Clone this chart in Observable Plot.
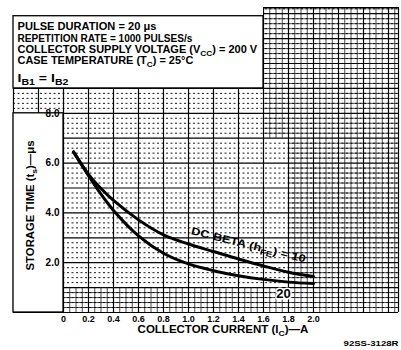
<!DOCTYPE html>
<html><head><meta charset="utf-8">
<script src="https://cdn.jsdelivr.net/npm/d3@7"></script>
<script src="https://cdn.jsdelivr.net/npm/@observablehq/plot@0.6"></script>
<style>
html,body{margin:0;padding:0;background:#fff;}
svg{display:block;}
</style></head><body><div id="chart"></div>
<script>
// ---- data ----
const ic = [0.08, 0.2, 0.3, 0.4, 0.6, 0.8, 1.0, 1.2, 1.4, 1.6, 1.8, 2.0];
const tsBeta10 = [6.45, 5.55, 4.98, 4.5, 3.72, 3.12, 2.75, 2.45, 2.15, 1.87, 1.62, 1.45];
const tsBeta20 = [6.45, 5.5, 4.75, 4.1, 3.08, 2.38, 1.95, 1.68, 1.48, 1.33, 1.22, 1.16];
const xTickValues = [0, 0.2, 0.4, 0.6, 0.8, 1.0, 1.2, 1.4, 1.6, 1.8, 2.0];
const xTickLabels = ["0", "0.2", "0.4", "0.6", "0.8", "1.0", "1.2", "1.4", "1.6", "1.8", "2.0"];
const yTickValues = [2, 4, 6, 8];
const yTickLabels = ["2.0", "4.0", "6.0", "8.0"];
const headerLines = [
  "PULSE DURATION = 20 μs",
  "REPETITION RATE = 1000 PULSES/s",
  "COLLECTOR SUPPLY VOLTAGE (V_{CC}) = 200 V",
  "CASE TEMPERATURE (T_{C}) = 25°C",
  "I_{B1} = I_{B2}"
];
const xTitle = "COLLECTOR CURRENT (I_{C})—A";
const yTitle = "STORAGE TIME (t_{s})—μs";
const betaLabels = ["DC BETA (h_{FE}) = 10", "20"];
const caption = "92SS-3128R";

// ---- layout ----
const X0 = -0.4, X1 = 2.68, Y1 = 12.25;
const near = (v, s) => Math.abs(v / s - Math.round(v / s)) < 1e-6;
const majorX = d3.range(-0.4, 2.61, 0.2).map(v => +v.toFixed(2));
const majorY = d3.range(0, 12.5, 1);
const minorY = d3.range(0.2, 12.25, 0.2).map(v => +v.toFixed(2)).filter(v => !near(v, 1));
const minorX = d3.range(0, 2.68, 0.05).map(v => +v.toFixed(2)).filter(v => !near(v, 0.2));

const denseH = minorY.map(y => ({y, x1: y < 1 ? 0 : (y > 7 ? 1.6 : 1.8), x2: X1}));
const denseV = [];
for (const x of minorX) {
  if (x >= 1.8) denseV.push({x, y1: 0, y2: Y1});
  else if (x >= 1.6) { denseV.push({x, y1: 7, y2: Y1}); denseV.push({x, y1: 0, y2: 1}); }
  else denseV.push({x, y1: 0, y2: 1});
}

const curves = [
  ...ic.map((x, i) => ({ic: x, ts: tsBeta10[i], beta: 10})),
  ...ic.map((x, i) => ({ic: x, ts: tsBeta20[i], beta: 20}))
];

const bold = {fill: "#000", fontWeight: "bold"};

const plot = Plot.plot({
  width: 401, height: 350,
  marginLeft: 13, marginRight: 3, marginTop: 7, marginBottom: 38,
  x: {domain: [X0, X1], axis: null},
  y: {domain: [0, Y1], axis: null},
  style: {fontFamily: "'Liberation Sans', Arial, sans-serif", background: "#fff"},
  marks: [
    Plot.ruleY(minorY, {x1: X0, x2: X1, stroke: "#000", strokeWidth: 0.9, strokeDasharray: "2,2.5"}),
    Plot.ruleY(denseH, {y: "y", x1: "x1", x2: "x2", stroke: "#000", strokeWidth: 0.7}),
    Plot.ruleX(denseV, {x: "x", y1: "y1", y2: "y2", stroke: "#000", strokeWidth: 0.7}),
    Plot.ruleX(majorX, {y1: 0, y2: Y1, stroke: "#000", strokeWidth: 1.2}),
    Plot.ruleX([X1], {y1: 0, y2: Y1, stroke: "#000", strokeWidth: 1.2}),
    Plot.ruleY(majorY, {x1: X0, x2: X1, stroke: "#000", strokeWidth: 1.2}),
    Plot.ruleY([Y1], {x1: 1.6, x2: X1, stroke: "#000", strokeWidth: 1.2}),
    // white panels
    Plot.rect([{}], {x1: X0 - 0.1, x2: 1.6, y1: 9, y2: Y1 + 0.3, fill: "#fff"}),
    Plot.rect([{}], {x1: X0, x2: 1.6, y1: 9, y2: 11.9, fill: "#fff", stroke: "#000", strokeWidth: 1.3}),
    Plot.rect([{}], {x1: X0, x2: 0, y1: 0, y2: 8, fill: "#fff", stroke: "#000", strokeWidth: 1.3}),
    // curves
    Plot.line(curves, {x: "ic", y: "ts", z: "beta", curve: "catmull-rom", stroke: "#000", strokeWidth: 3}),
    // tick labels
    Plot.text(yTickValues, {x: 0, y: d => d, text: (d, i) => yTickLabels[i], textAnchor: "end", dx: -4, fontSize: 10, ...bold}),
    Plot.text(xTickValues, {x: d => d, y: 0, text: (d, i) => xTickLabels[i], dy: 6.5, fontSize: 9, ...bold}),
    // titles
    Plot.text([xTitle], {frameAnchor: "bottom", textAnchor: "middle", dx: 17, dy: 20, fontSize: 10, ...bold}),
    Plot.text([yTitle], {frameAnchor: "left", textAnchor: "middle", rotate: -90, dx: 17, dy: 45.5, fontSize: 10, ...bold}),
    // header
    ...headerLines.map((s, i) => Plot.text([s], {frameAnchor: "top-left", dx: 4, dy: [22, 34, 45, 56, 74][i], lineAnchor: "bottom", textAnchor: "start", fontSize: i === 4 ? 11 : 10.5, ...bold})),
    // curve labels, anchored to curve points
    Plot.text([betaLabels[0]], {x: ic[8], y: tsBeta10[8], dx: 10, dy: -14, rotate: 14, fontSize: 10.5, ...bold}),
    Plot.text([betaLabels[1]], {x: ic[10], y: tsBeta20[10], dx: -5, dy: 12, fontSize: 13, stroke: "#fff", strokeWidth: 3, paintOrder: "stroke", ...bold}),
    Plot.text([caption], {frameAnchor: "bottom-right", dy: 33, textAnchor: "end", fontSize: 8, ...bold})
  ]
});

// subscripts and condensed widths
const targetLen = new Map([
  [headerLines[0], 139], [headerLines[1], 175], [headerLines[2], 240], [headerLines[3], 176], [headerLines[4], 51],
  [xTitle, 171], [yTitle, 130], [betaLabels[0], 118], [caption, 55]
]);
const ns = "http://www.w3.org/2000/svg";
const toFit = [];
plot.querySelectorAll("text").forEach(t => {
  const s = t.textContent;
  if (targetLen.has(s)) toFit.push([t, targetLen.get(s)]);
  if (!s.includes("_{")) return;
  while (t.firstChild) t.removeChild(t.firstChild);
  const re = /_\{([^}]*)\}/g; let last = 0, m, shifted = false;
  const add = (txt, sub) => {
    const sp = document.createElementNS(ns, "tspan");
    sp.textContent = txt;
    if (sub) { sp.setAttribute("dy", 3); sp.setAttribute("font-size", "75%"); shifted = true; }
    else if (shifted) { sp.setAttribute("dy", -3); shifted = false; }
    t.appendChild(sp);
  };
  while ((m = re.exec(s))) {
    if (m.index > last) add(s.slice(last, m.index), false);
    add(m[1], true);
    last = re.lastIndex;
  }
  if (last < s.length) add(s.slice(last), false);
});
document.getElementById("chart").appendChild(plot);
for (const [t, len] of toFit) {
  const w = t.getComputedTextLength();
  if (w > 0) {
    const k = len / w;
    t.setAttribute("transform", (t.getAttribute("transform") || "") + ` scale(${k.toFixed(3)},1)`);
  }
}
</script>
</body></html>
